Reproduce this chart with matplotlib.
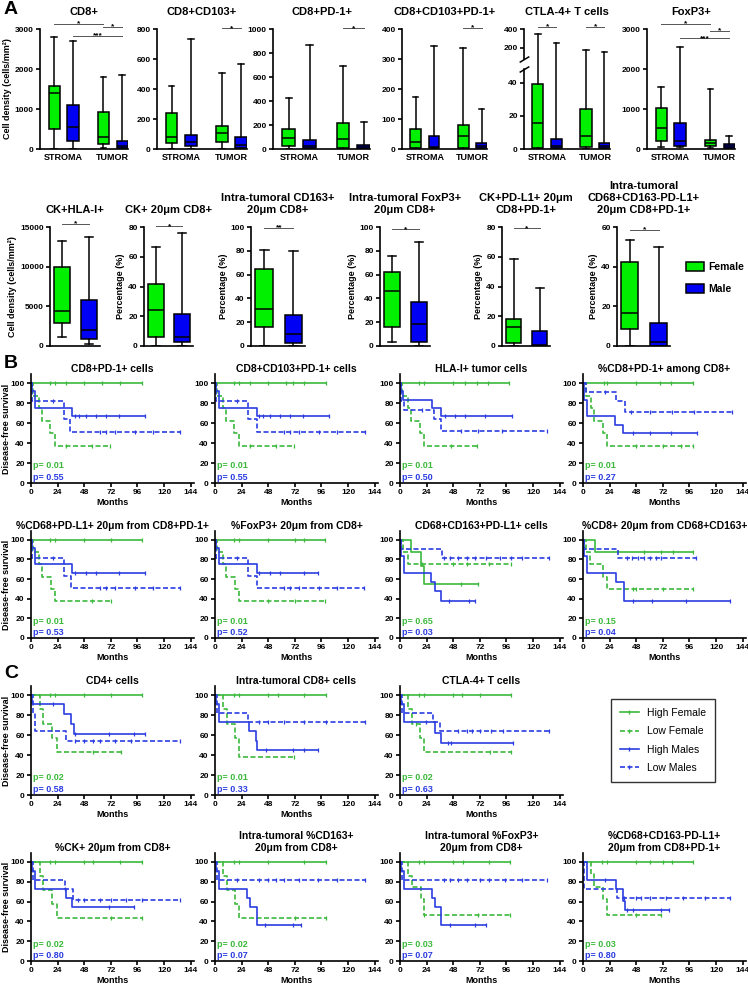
import numpy as np
import matplotlib.pyplot as plt
from matplotlib.lines import Line2D
from matplotlib.patches import Patch
from matplotlib.transforms import blended_transform_factory

plt.rcParams['font.family'] = ['Liberation Sans', 'DejaVu Sans']
plt.rcParams.update({
    'font.weight': 'bold', 'axes.labelweight': 'bold', 'axes.titleweight': 'bold',
    'axes.linewidth': 1.2, 'xtick.major.width': 1.2, 'ytick.major.width': 1.2,
    'xtick.major.size': 3, 'ytick.major.size': 3, 'xtick.labelsize': 6,
    'ytick.labelsize': 6, 'xtick.major.pad': 1.5, 'ytick.major.pad': 1.5,
})

BOX_GREEN = '#00f000'
BOX_BLUE = '#0000f5'
KM_GREEN = '#3cb93c'
KM_BLUE = '#2b3de0'

# ---------- panel A, top row: [min, q1, median, q3, max] ----------
# order: Female STROMA, Male STROMA, Female TUMOR, Male TUMOR
cd8_box = [[0, 490, 1390, 1580, 2800], [0, 190, 540, 1090, 2700],
           [20, 125, 310, 935, 1800], [0, 15, 85, 200, 1840]]
cd8cd103_box = [[0, 42, 78, 243, 417], [0, 20, 45, 94, 733],
                [0, 50, 110, 155, 510], [0, 5, 25, 80, 570]]
cd8pd1_box = [[0, 25, 89, 164, 423], [0, 5, 28, 75, 863],
              [0, 10, 80, 214, 693], [0, 3, 15, 30, 228]]
cd8cd103pd1_box = [[0, 5, 25, 68, 175], [0, 2, 8, 42, 345],
                   [0, 5, 42, 80, 337], [0, 2, 9, 19, 135]]
ctla4_box = [[0, 0.5, 16, 39, 345], [0, 0.4, 2, 6, 244],
             [0, 1, 8, 24, 175], [0, 0.4, 1.6, 3.5, 150]]
foxp3_box = [[42, 203, 516, 1014, 1547], [42, 76, 211, 651, 2544],
             [20, 68, 144, 220, 1488], [10, 20, 68, 127, 313]]

# significance bars: (box i, box j, y, label)
cd8_sig = [(0, 2, 3130, '*'), (2, 3, 3060, '*'), (1, 3, 2820, '***')]
cd8cd103_sig = [(2, 3, 805, '*')]
cd8pd1_sig = [(2, 3, 1005, '*')]
cd8cd103pd1_sig = [(2, 3, 405, '*')]
ctla4_sig = [(0, 1, 420, '*'), (2, 3, 420, '*')]
foxp3_sig = [(0, 2, 3128, '*'), (2, 3, 2950, '*'), (1, 3, 2764, '***')]

# ---------- panel A, bottom row: Female, Male ----------
ckhla_box = [[1100, 2900, 4450, 9900, 13250], [200, 850, 2000, 5800, 13750]]
ck20_box = [[0, 5.8, 24, 41.4, 66.4], [0, 2.9, 5.8, 21.2, 75.8]]
cd163_box = [[0, 16, 31, 65, 81], [0, 2.8, 10, 25.8, 79.5]]
foxp320_box = [[3, 16, 46, 62, 75.4], [0, 3.6, 18.4, 37, 87.4]]
ckpdl1_box = [[0, 1.8, 12.5, 18, 58.4], [0, 0, 0.5, 10, 38.9]]
cd68_box = [[0, 8.4, 16.8, 42.4, 53.6], [0, 0, 1.9, 11.7, 50]]
row2_sig_y = [15400, 80.5, 99, 98, 79, 58.7]
row2_sig_lab = ['*', '*', '**', '*', '*', '*']

# ---------- Kaplan-Meier curves ----------
# each curve: (event times, survival after event, last follow-up, censor times)
km_b1 = {'hf': ([], [], 100, [17, 22, 32, 48, 64, 80, 100]),
         'lf': ([2, 7, 10, 17, 22], [87.5, 75, 62.5, 50, 37.5], 71, [32, 55, 71]),
         'hm': ([1, 4, 37], [91.7, 75, 66.7], 103, [40, 43, 50, 59, 68, 79, 103]),
         'lm': ([1, 30, 35], [81.8, 63.6, 51], 134, [20, 62, 68, 76, 94, 110, 134])}
km_b2 = {'hf': ([], [], 100, [17, 22, 32, 48, 64, 70, 80, 100]),
         'lf': ([2, 7, 10, 17, 22], [87.5, 75, 62.5, 50, 37.5], 71, [32, 55, 71]),
         'hm': ([1, 4, 37.5], [91.7, 75, 66.7], 103, [40, 43, 50, 59, 68, 79, 103]),
         'lm': ([1, 30, 37.5], [81.8, 63.6, 51], 135, [20, 62, 68, 76, 94, 110, 135])}
km_b3 = {'hf': ([], [], 98, [17, 22, 48, 59, 69, 79, 98]),
         'lf': ([2, 7, 10, 18, 22], [87.5, 75, 62.5, 50, 37.5], 69, [46, 69]),
         'hm': ([1, 3, 29, 37], [91.7, 83.3, 75, 66.7], 101, [41, 50, 59, 77, 101]),
         'lm': ([1, 4, 31, 37], [81.8, 72.7, 63.6, 52], 133, [20, 55, 70, 92, 133])}
km_b4 = {'hf': ([], [], 99, [19, 22, 48, 69, 79, 99]),
         'lf': ([3, 7.5, 10, 18, 21.5], [87.5, 75, 62.5, 50, 37.5], 99, [48, 72, 88, 99]),
         'hm': ([1, 4, 29, 36.5], [83.3, 66.7, 58.3, 50], 103, [45, 60, 79, 103]),
         'lm': ([3, 30, 37.5], [90.9, 81.8, 71], 134, [20, 43, 60, 80, 100, 134])}
km_b5 = {'hf': ([], [], 100, [17, 22, 48, 72, 100]),
         'lf': ([2, 7, 10, 18, 22], [87.5, 75, 62.5, 50, 37.5], 72, [55, 72]),
         'hm': ([1, 4, 37], [91.7, 75, 66.7], 103, [40, 50, 59, 79, 103]),
         'lm': ([1, 30, 36], [81.8, 63.6, 51], 134, [20, 62, 68, 76, 94, 110, 134])}
km_b6 = {'hf': ([], [], 99, [17, 22, 48, 72, 80, 99]),
         'lf': ([2, 7, 10, 18, 22], [87.5, 75, 62.5, 50, 37.5], 99, [48, 72, 99]),
         'hm': ([1, 4, 38], [91.7, 75, 66.7], 93, [40, 50, 59, 80, 93]),
         'lm': ([1, 30, 37.5], [81.8, 63.6, 51], 134, [20, 62, 68, 76, 94, 110, 134])}
km_b7 = {'hf': ([10, 19, 22], [87.5, 72.9, 54.7], 70, [55, 70]),
         'lf': ([3, 7], [87.5, 75], 100, [20, 48, 60, 80, 100]),
         'hm': ([1, 4, 28, 31.5, 37], [83.3, 66.7, 57.1, 47.6, 38.1], 68, [44, 62, 68]),
         'lm': ([1, 37.5], [90.9, 81.8], 134, [40, 45, 52, 60, 68, 78, 90, 100, 110, 134])}
km_b8 = {'hf': ([10.5], [87.5], 99, [55, 70, 81, 99]),
         'lf': ([3, 6, 18, 21.5], [87.5, 75, 62.5, 50], 99, [45, 48, 72, 99]),
         'hm': ([1, 4, 29.5, 37], [83.3, 66.7, 57.1, 38.1], 133, [45, 62, 93, 133]),
         'lm': ([1, 31.5], [90.9, 81.8], 102, [40, 44, 50, 55, 60, 66, 70, 102])}
km_c1 = {'hf': ([], [], 100, [17, 22, 48, 72, 100]),
         'lf': ([8, 11, 19, 23], [85.7, 71.4, 57.1, 42.9], 81, [56, 81]),
         'hm': ([1, 30, 36, 38.5], [90.9, 80.8, 70.7, 60.6], 103, [20, 40, 70, 93, 103]),
         'lm': ([2, 4, 32], [81.8, 63.6, 54.5], 134, [40, 48, 56, 62, 76, 90, 134])}
km_c2 = {'hf': ([], [], 100, [17, 22, 48, 57, 80, 100]),
         'lf': ([7.5, 10.5, 18, 22], [85.7, 71.4, 57.1, 38.1], 71, [71]),
         'hm': ([1, 4, 31, 37, 38], [90.9, 72.7, 63.6, 54.5, 45.5], 93, [46, 70, 80, 93]),
         'lm': ([2, 30], [81.8, 72.7], 135, [40, 48, 62, 80, 100, 135])}
km_c3 = {'hf': ([], [], 100, [17, 22, 48, 56, 72, 100]),
         'lf': ([7.5, 10.5, 18, 21.5], [85.7, 71.4, 57.1, 42.9], 100, [14, 81, 100]),
         'hm': ([1, 4, 31.5, 37], [90.9, 72.7, 62, 51.7], 102, [23, 43, 46, 102]),
         'lm': ([2, 30, 36], [81.8, 72.7, 63.6], 134, [52, 60, 65, 72, 82, 93, 134])}
km_c4 = {'hf': ([], [], 100, [17, 22, 48, 56, 80, 100]),
         'lf': ([8, 11, 19, 23], [85.7, 71.4, 57.1, 42.9], 100, [72, 100]),
         'hm': ([1, 4, 32, 37], [90.9, 72.7, 63.6, 54.5], 93, [31, 70, 93]),
         'lm': ([2, 31, 38], [81.8, 72.7, 61.6], 134, [42, 48, 62, 72, 86, 100, 134])}
km_c5 = {'hf': ([], [], 100, [17, 22, 48, 80, 100]),
         'lf': ([7.5, 10.5, 18, 22], [85.7, 71.4, 57.1, 42.9], 100, [72, 100]),
         'hm': ([1, 4, 29, 32, 37.5], [90.9, 72.7, 63.6, 54.5, 36.4], 78, [45, 70, 78]),
         'lm': ([2], [81.8], 135, [20, 40, 48, 55, 62, 76, 93, 110, 135])}
km_c6 = {'hf': ([], [], 99, [17, 22, 48, 57, 80, 99]),
         'lf': ([7.5, 10.5, 18.5, 21.5], [85.7, 75, 62.5, 46.9], 99, [22, 70, 99]),
         'hm': ([1, 4, 29, 32, 37], [90.9, 72.7, 63.6, 54.5, 36.4], 78, [45, 68, 78]),
         'lm': ([2], [81.8], 133, [40, 45, 52, 60, 72, 80, 95, 110, 133])}
km_c7 = {'hf': ([], [], 99, [17, 22, 48, 60, 72, 80, 99]),
         'lf': ([7, 10, 18, 21.5], [87.5, 75, 62.5, 46.9], 70, [48, 70]),
         'hm': ([4, 29.5, 36, 37.5], [81.8, 72.7, 61, 51], 78, [20, 40, 45, 70, 78]),
         'lm': ([1, 31], [72.7, 63.6], 133, [37, 48, 52, 60, 75, 90, 110, 133])}

km_titles = ['CD8+PD-1+ cells', 'CD8+CD103+PD-1+ cells', 'HLA-I+ tumor cells',
             '%CD8+PD-1+ among CD8+', '%CD68+PD-L1+ 20μm from CD8+PD-1+',
             '%FoxP3+ 20μm from CD8+', 'CD68+CD163+PD-L1+ cells',
             '%CD8+ 20μm from CD68+CD163+', 'CD4+ cells', 'Intra-tumoral CD8+ cells',
             'CTLA-4+ T cells', '%CK+ 20μm from CD8+',
             'Intra-tumoral %CD163+\n20μm from CD8+', 'Intra-tumoral %FoxP3+\n20μm from CD8+',
             '%CD68+CD163-PD-L1+\n20μm from CD8+PD-1+']
km_p_female = ['0.01', '0.01', '0.01', '0.01', '0.01', '0.01', '0.65', '0.15',
               '0.02', '0.01', '0.02', '0.02', '0.02', '0.03', '0.03']
km_p_male = ['0.55', '0.55', '0.50', '0.27', '0.53', '0.52', '0.03', '0.04',
             '0.58', '0.33', '0.63', '0.80', '0.07', '0.07', '0.80']

W, H = 748, 989
fig = plt.figure(figsize=(W / 100, H / 100), dpi=100)


def px_axes(x0, x1, y0, y1):
    return fig.add_axes([x0 / W, 1 - y1 / H, (x1 - x0) / W, (y1 - y0) / H])


def clean(ax):
    ax.spines['top'].set_visible(False)
    ax.spines['right'].set_visible(False)


def boxes(ax, data, pos, width):
    stats = [dict(whislo=d[0], q1=d[1], med=d[2], q3=d[3], whishi=d[4]) for d in data]
    lw = dict(color='black', linewidth=1.1)
    art = ax.bxp(stats, positions=pos, widths=width, patch_artist=True,
                 showfliers=False, capwidths=width * 0.5, manage_ticks=False,
                 boxprops=dict(edgecolor='black', linewidth=1.1),
                 medianprops=lw, whiskerprops=lw, capprops=lw)
    for k, b in enumerate(art['boxes']):
        b.set_facecolor(BOX_GREEN if k % 2 == 0 else BOX_BLUE)


def sig(ax, pos, marks):
    for i, j, y, lab in marks:
        ax.plot([pos[i], pos[j]], [y, y], color='#555555', lw=0.7, clip_on=False)
        ax.text((pos[i] + pos[j]) / 2, y, lab, ha='center', va='center',
                fontsize=6, clip_on=False)


# ----- A top row -----
pos1 = [0, 1, 2.6, 3.6]
row1 = [('CD8+', cd8_box, cd8_sig, 3000, [0, 1000, 2000, 3000], 40, 128),
        ('CD8+CD103+', cd8cd103_box, cd8cd103_sig, 800, [0, 200, 400, 600, 800], 157, 247),
        ('CD8+PD-1+', cd8pd1_box, cd8pd1_sig, 1000, [0, 200, 400, 600, 800, 1000], 273, 370),
        ('CD8+CD103+PD-1+', cd8cd103pd1_box, cd8cd103pd1_sig, 400, [0, 100, 200, 300, 400], 402, 487),
        ('CTLA-4+ T cells', ctla4_box, ctla4_sig, 400, [0, 20, 40, 200, 400], 524, 610),
        ('FoxP3+', foxp3_box, foxp3_sig, 3000, [0, 1000, 2000, 3000], 647, 735)]


def brk_f(v):
    v = np.asarray(v, dtype=float)
    return np.where(v <= 50, v, 52.9 + (v - 50) * 0.056)


def brk_inv(f):
    f = np.asarray(f, dtype=float)
    return np.where(f <= 50, f, np.where(f < 52.9, 50.0, 50 + (f - 52.9) / 0.056))


for k, (title, data, marks, ymax, yt, x0, x1) in enumerate(row1):
    ax = px_axes(x0, x1, 29, 149)
    clean(ax)
    if title.startswith('CTLA'):
        ax.set_yscale('function', functions=(brk_f, brk_inv))
        ax.spines['left'].set_visible(False)
        tr = blended_transform_factory(ax.transAxes, ax.transData)
        ax.plot([0, 0], [0, 48.5], transform=tr, color='black', lw=1.2, clip_on=False)
        ax.plot([0, 0], [80, 400], transform=tr, color='black', lw=1.2, clip_on=False)
        ax.plot([0, 0], [48.5, 80], transform=tr, ls='none', color='black',
                marker=[(-1, -0.6), (1, 0.6)], ms=7, mew=1.1, clip_on=False)
    boxes(ax, data, pos1, 0.6)
    sig(ax, pos1, marks)
    ax.set_ylim(0, ymax)
    ax.set_yticks(yt)
    ax.set_xlim(-0.75, 3.9)
    ax.set_xticks([0.5, 3.1], ['STROMA', 'TUMOR'])
    ax.tick_params(axis='x', length=0, pad=3, labelsize=6.5)
    ax.set_title(title, fontsize=8, pad=10)
    if k == 0:
        ax.set_ylabel('Cell density (cells/mm²)', fontsize=6.5, labelpad=2)

# ----- A bottom row -----
pos2 = [0, 1]
row2 = [('CK+HLA-I+', ckhla_box, [0, 5000, 10000, 15000], 15000, 50, 100),
        ('CK+ 20μm CD8+', ck20_box, [0, 20, 40, 60, 80], 80, 144, 193),
        ('Intra-tumoral CD163+\n20μm CD8+', cd163_box, [0, 20, 40, 60, 80, 100], 100, 251, 305),
        ('Intra-tumoral FoxP3+\n20μm CD8+', foxp320_box, [0, 20, 40, 60, 80, 100], 100, 380, 430),
        ('CK+PD-L1+ 20μm\nCD8+PD-1+', ckpdl1_box, [0, 20, 40, 60, 80], 80, 502, 550),
        ('Intra-tumoral\nCD68+CD163-PD-L1+\n20μm CD8+PD-1+', cd68_box, [0, 20, 40, 60], 60, 617, 670)]
for k, (title, data, yt, ymax, x0, x1) in enumerate(row2):
    ax = px_axes(x0, x1, 227, 346)
    clean(ax)
    boxes(ax, data, pos2, 0.6)
    sig(ax, pos2, [(0, 1, row2_sig_y[k], row2_sig_lab[k])])
    ax.set_ylim(0, ymax)
    ax.set_yticks(yt)
    ax.set_xlim(-0.45, 1.4)
    ax.set_xticks([])
    ax.set_title(title, fontsize=8, pad=10, linespacing=1.25)
    ax.set_ylabel('Cell density (cells/mm²)' if k == 0 else 'Percentage (%)',
                  fontsize=6.5, labelpad=2)

fig.legend([Patch(facecolor=BOX_GREEN, edgecolor='black', lw=1.1),
            Patch(facecolor=BOX_BLUE, edgecolor='black', lw=1.1)], ['Female', 'Male'],
           loc='upper left', bbox_to_anchor=(686 / W, 1 - 262 / H), frameon=False,
           fontsize=7.5, handlelength=1.7, handleheight=1.0, labelspacing=1.1,
           handletextpad=0.4, borderaxespad=0, borderpad=0)

# ----- Kaplan-Meier panels -----
KM_STYLES = [('hf', KM_GREEN, '-'), ('lf', KM_GREEN, '--'),
             ('hm', KM_BLUE, '-'), ('lm', KM_BLUE, '--')]


def draw_km(ax, curves, title, pf, pm, first):
    for key, col, ls in KM_STYLES:
        t, s, end, cens = curves[key]
        xs = np.r_[0, t, end]
        ys = np.r_[100, s, s[-1] if len(s) else 100]
        ln, = ax.step(xs, ys, where='post', color=col, lw=1.2, ls=ls)
        if ls == '--':
            ln.set_dashes((3, 1.5))
        cy = [ys[np.searchsorted(xs, c, side='right') - 1] for c in cens]
        ax.plot(cens, cy, ls='none', marker='|', ms=3, mew=0.9, color=col)
    clean(ax)
    ax.set_xlim(0, 147)
    ax.set_ylim(0, 109)
    ax.set_xticks(range(0, 145, 24))
    ax.set_yticks(range(0, 101, 20))
    ax.set_title(title, fontsize=7.5, pad=1.5, linespacing=1.25)
    ax.set_xlabel('Months', fontsize=6.5, labelpad=1)
    ax.text(2, 17, 'p= ' + pf, color=KM_GREEN, fontsize=6.5, va='center')
    ax.text(2, 6, 'p= ' + pm, color=KM_BLUE, fontsize=6.5, va='center')
    if first:
        ax.set_ylabel('Disease-free survival', fontsize=6.5)
        ax.yaxis.set_label_coords(-0.12, 0.5)


km_list = [km_b1, km_b2, km_b3, km_b4, km_b5, km_b6, km_b7, km_b8,
           km_c1, km_c2, km_c3, km_c4, km_c5, km_c6, km_c7]
cols_x = [31, 215, 400, 583]
rows_y = [(374, 483), (531, 638), (686, 795), (853, 961)]
slots = [(0, c) for c in range(4)] + [(1, c) for c in range(4)] + \
        [(2, c) for c in range(3)] + [(3, c) for c in range(4)]
for k, (r, c) in enumerate(slots):
    ax = px_axes(cols_x[c], cols_x[c] + 163, rows_y[r][0], rows_y[r][1])
    draw_km(ax, km_list[k], km_titles[k], km_p_female[k], km_p_male[k], c == 0)

leg_handles = [Line2D([], [], color=KM_GREEN, lw=1.2, marker='|', ms=3),
               Line2D([], [], color=KM_GREEN, lw=1.2, ls=(0, (3, 1.5)), marker='|', ms=3),
               Line2D([], [], color=KM_BLUE, lw=1.2, marker='|', ms=3),
               Line2D([], [], color=KM_BLUE, lw=1.2, ls=(0, (3, 1.5)), marker='|', ms=3)]
lg = fig.legend(leg_handles, ['High Female', 'Low Female', 'High Males', 'Low Males'],
                loc='upper left', bbox_to_anchor=(611 / W, 1 - 699 / H), frameon=True,
                fancybox=False, edgecolor='black', prop=dict(weight='normal', size=7.5),
                handlelength=1.8, labelspacing=0.8, borderpad=0.85, borderaxespad=0)
lg.get_frame().set_linewidth(1.0)

for lab, x, y in [('A', 4, 9), ('B', 4, 363), ('C', 4, 673)]:
    fig.text(x / W, 1 - y / H, lab, fontsize=14, weight='bold', va='center', ha='left')

fig.savefig('out.png', dpi=100)
